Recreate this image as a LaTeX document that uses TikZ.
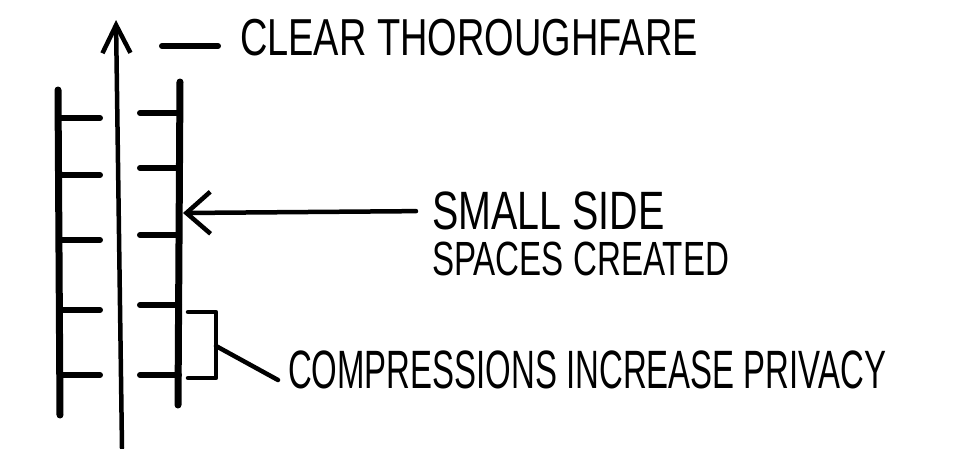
\documentclass[tikz,border=0pt]{standalone}
\usepackage{fontspec}
\setmainfont{Liberation Sans}
\usetikzlibrary{arrows.meta,positioning}

\begin{document}
\begin{tikzpicture}[x=1pt,y=-1pt,
  wall/.style={line width=7pt,line cap=round},
  ledge/.style={line width=6pt,line cap=round},
  pen/.style={line width=4.5pt,line cap=round,line join=round},
  lbl/.style={inner sep=0pt,transform shape}]

\useasboundingbox (0,0) rectangle (954,448);

% walls of the passage
\draw[wall] (58,90) -- (60,415);
\draw[wall] (180,82) -- (178,405);

% compressions along both walls
\foreach \y in {118,175,240,310,375}{
       \draw[ledge] (60,\y) -- (100,\y);
}
\foreach \y in {113,168,235,305,375}{
       \draw[ledge] (140,\y) -- (179,\y);
}

% the thoroughfare
\coordinate (pathbot) at (122,448);
\coordinate (pathtop) at (116,20);
\draw[pen,-{Straight Barb[length=28pt,width=28pt]}] (pathbot) -- (pathtop);

% labels
\node[lbl,anchor=west,xscale=0.73,font=\fontsize{52}{56}\selectfont] (thoro) at (240,38) {CLEAR THOROUGHFARE};
\node[lbl,anchor=west,xscale=0.73,font=\fontsize{54}{58}\selectfont] (sside) at (432,211) {SMALL SIDE};
\node[lbl,anchor=base west,xscale=0.69,font=\fontsize{48}{52}\selectfont] (spaces) at (432,275) {SPACES CREATED};
\node[lbl,anchor=west,xscale=0.61,font=\fontsize{54}{58}\selectfont] (compr) at (288,370) {COMPRESSIONS INCREASE PRIVACY};

% leaders
\coordinate (dashend) at (162,46);
\draw[ledge] ([xshift=-22pt,yshift=-8pt]thoro.west) -- (dashend);
\coordinate (sidetip) at (183,213);
\draw[pen,shorten <=16pt,-{Straight Barb[length=24pt,width=42pt]}] (sside.west) -- (sidetip);

\coordinate (brk) at (216,346);
\draw[pen] (188,312) -- (216,312) -- (216,378) -- (188,378);
\draw[pen] (brk) -- ([xshift=-10pt,yshift=-10pt]compr.west);

\end{tikzpicture}
\end{document}
